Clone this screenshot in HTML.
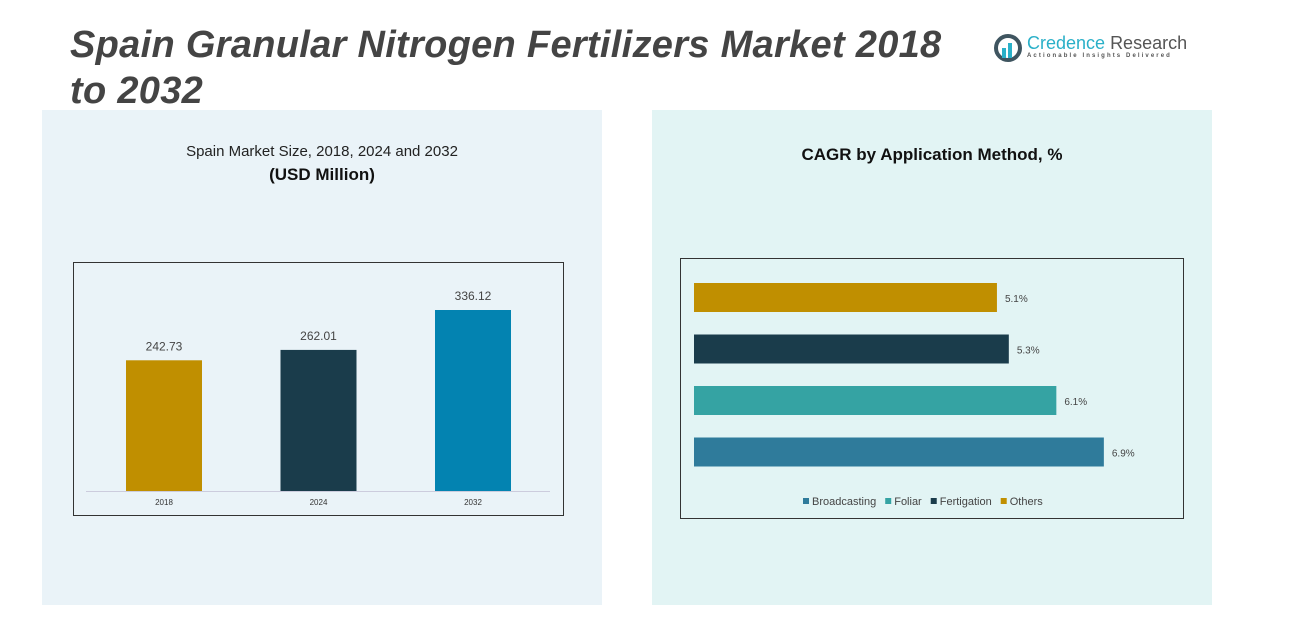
<!DOCTYPE html>
<html><head><meta charset="utf-8"><style>
body{margin:0;width:1307px;height:623px;background:#fff;position:relative;overflow:hidden;font-family:"Liberation Sans",sans-serif}
.abs{position:absolute}
</style></head><body>
<div class="abs" style="left:42px;top:110px;width:560px;height:495px;background:#eaf3f8"></div>
<div class="abs" style="left:652px;top:110px;width:560px;height:495px;background:#e2f4f4"></div>
<div class="abs" style="left:70px;top:22px;width:920px;font-size:38px;letter-spacing:0.3px;font-weight:bold;font-style:italic;color:#444;line-height:46px">Spain Granular Nitrogen Fertilizers Market 2018<br>to 2032</div>
<div class="abs" style="left:993px;top:32px;width:200px;height:36px">
<svg width="32" height="32" style="position:absolute;left:0;top:0"><circle cx="15" cy="16" r="12" fill="none" stroke="#3f5560" stroke-width="4"/><rect x="9" y="16" width="4" height="10" fill="#2ab0c8"/><rect x="15" y="11" width="4" height="15" fill="#2ab0c8"/></svg>
<div class="abs" style="left:34px;top:1px;font-size:18px;color:#2ab0c8;white-space:nowrap">Credence <span style="color:#555">Research</span></div>
<div class="abs" style="left:34px;top:21px;font-size:6px;letter-spacing:2.1px;color:#555;white-space:nowrap;font-weight:bold">Actionable Insights Delivered</div>
</div>
<div class="abs" style="left:42px;top:143px;width:560px;text-align:center;font-size:15px;color:#222">Spain Market Size, 2018, 2024 and 2032</div>
<div class="abs" style="left:42px;top:165px;width:560px;text-align:center;font-size:17px;font-weight:bold;color:#111">(USD Million)</div>
<div class="abs" style="left:652px;top:145px;width:560px;text-align:center;font-size:17px;font-weight:bold;color:#111">CAGR by Application Method, %</div>
<svg class="abs" style="left:0;top:0" width="1307" height="623" id="svg">
<rect x="73.5" y="262.5" width="490" height="253" fill="none" stroke="#333" stroke-width="1"/>
<line x1="86" y1="491.5" x2="550" y2="491.5" stroke="#ccd" stroke-width="1"/>
<rect x="680.5" y="258.5" width="503" height="260" fill="none" stroke="#333" stroke-width="1"/>
<g id="g1"></g><g id="g2"></g>
</svg>
<script>
const years=["2018","2024","2032"];
const sizes=[242.73,262.01,336.12];
const barColors=["#c08f00","#1a3c4b","#0383b1"];
const methods=["Others","Fertigation","Foliar","Broadcasting"];
const cagr=[5.1,5.3,6.1,6.9];
const hColors=["#c08f00","#1a3c4b","#35a3a3","#2f7b9b"];
const legendOrder=["Broadcasting","Foliar","Fertigation","Others"];
const NS="http://www.w3.org/2000/svg";
function mk(t,a,p){const e=document.createElementNS(NS,t);for(const k in a)e.setAttribute(k,a[k]);p.appendChild(e);return e;}
const g1=document.getElementById('g1'),g2=document.getElementById('g2');
const base=491,yk=0.5385;
const xc=i=>164+i*154.5;
sizes.forEach((v,i)=>{
 const h=v*yk;
 const r=mk('rect',{x:xc(i)-38,y:base-h,width:76,height:h,fill:barColors[i]},g1);
 
 
 const t=mk('text',{x:xc(i),y:base-h-10,'text-anchor':'middle','font-size':12,fill:'#444','font-family':'Liberation Sans'},g1);
 t.textContent=v.toFixed(2);
 
 
 const l=mk('text',{x:xc(i),y:505,'text-anchor':'middle','font-size':8,fill:'#333','font-family':'Liberation Sans'},g1);
 l.textContent=years[i];
 
 
});
const x0=694,xk=59.4;
methods.forEach((m,i)=>{
 const y=283+i*51.5,w=cagr[i]*xk;
 const r=mk('rect',{x:x0,y:y,width:w,height:29,fill:hColors[i]},g2);
 
 
 const t=mk('text',{x:x0+w+8,y:y+19,'font-size':10,fill:'#444','font-family':'Liberation Sans'},g2);
 t.textContent=cagr[i]+'%';
 
 
});
let lx=803;
legendOrder.forEach(m=>{
 const c=hColors[methods.indexOf(m)];
 const r=mk('rect',{x:lx,y:498,width:6,height:6,fill:c},g2);
 
 
 const t=mk('text',{x:lx+9,y:505,'font-size':11,fill:'#444','font-family':'Liberation Sans'},g2);
 t.textContent=m;
 
 
 lx+=9+t.getComputedTextLength()+9;
});
</script>
</body></html>
